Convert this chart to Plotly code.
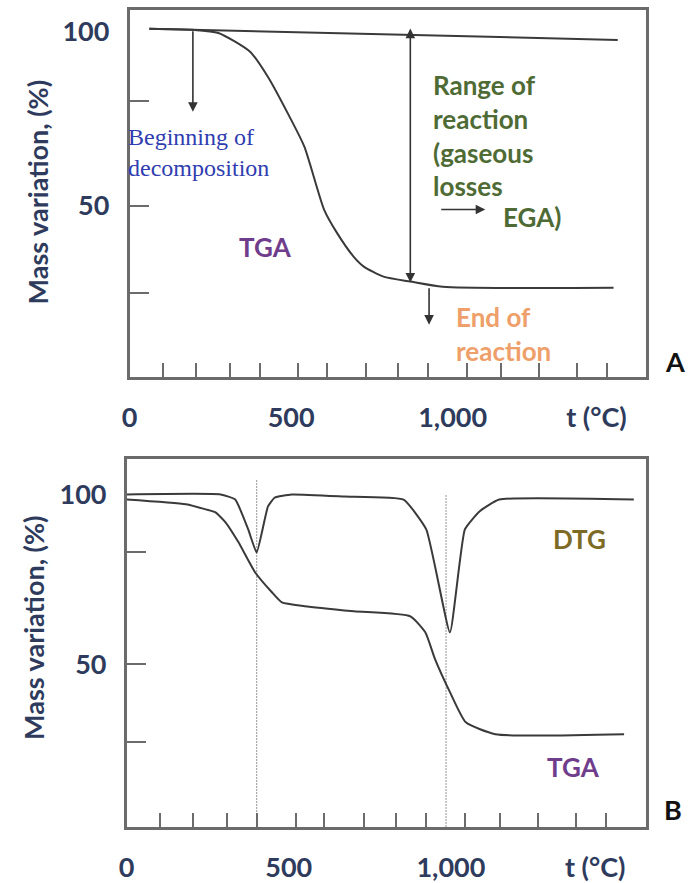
import plotly.graph_objects as go

# ---------------- data ----------------
# Panel A: single-step decomposition (temperature in °C, mass in %)
T_A_BASELINE = [61, 1511]
MASS_A_BASELINE = [100.9, 97.7]
T_A_TGA = [61, 196, 275, 373, 428, 489, 541, 602, 642, 694, 725, 786, 869, 969, 1498]
MASS_A_TGA = [100.9, 100.6, 99.7, 94.3, 87.1, 76.7, 67.0, 48.9, 42.2, 35.3, 32.5, 29.6, 28.2, 26.7, 26.4]

# Panel A event markers
ONSET_T, ONSET_FROM, ONSET_TO = 196, 100.6, 77.0
RANGE_T, RANGE_TOP, RANGE_BOTTOM = 869, 101.4, 27.9
END_T, END_FROM, END_TO = 927, 26.7, 15.8
EGA_T_FROM, EGA_T_TO, EGA_LEVEL = 960, 1101, 48.9

# Panel B: two-step decomposition with derivative curve
T_B_DTG = [0, 290, 335, 375, 401, 436, 457, 509, 671, 854, 924, 997, 1043, 1088, 1149, 1564]
DTG_B = [100, 100, 98.5, 89.7, 82.9, 96.5, 99.1, 100, 99.4, 98.5, 89.7, 59.4, 89.7, 95.0, 98.5, 98.5]
T_B_TGA = [0, 183, 244, 274, 305, 345, 396, 448, 479, 549, 701, 875, 921, 951, 997, 1046, 1137, 1534]
MASS_B_TGA = [98.5, 97.1, 95.6, 94.7, 91.8, 85.9, 77.1, 71.2, 68.2, 67.1, 65.6, 64.1, 59.4, 51.5,
              41.8, 32.9, 29.4, 29.4]
DTG_PEAK_T = [401, 985]
DTG_PEAK_TOP = [104.4, 100.0]

# Axis ticks
X_TICK_VALS = [0, 500, 1000]
X_TICK_TEXT = ["0", "500", "1,000"]
X_UNIT_T = 1445
X_UNIT_TEXT = "t (°C)"
X_MINOR_TICKS = [102, 206, 311, 403, 522, 610, 732, 832, 924, 1043, 1150, 1268, 1385, 1477]
Y_TICK_VALS = [100, 50]
Y_TICK_TEXT = ["100", "50"]
Y_MINOR_A = [80, 50, 25]
Y_MINOR_B = [83, 50, 27]

# ---------------- styling ----------------
FRAME = "#6b6b6b"
CURVE = "#3a3a3a"
NAVY = "#2e3b5c"
SANS = "Lato"
X_RANGE = [0, 1600]
Y_RANGE_A = [0.86, 106.3]
Y_RANGE_B = [2.06, 110.3]

fig = go.Figure()

# Panel A curves
fig.add_trace(go.Scatter(x=T_A_BASELINE, y=MASS_A_BASELINE, mode="lines",
                         line=dict(color=CURVE, width=2), xaxis="x", yaxis="y"))
fig.add_trace(go.Scatter(x=T_A_TGA, y=MASS_A_TGA, mode="lines",
                         line=dict(color=CURVE, width=2, shape="spline", smoothing=0.6),
                         xaxis="x", yaxis="y"))

# Panel B peak guides
for t, top in zip(DTG_PEAK_T, DTG_PEAK_TOP):
    fig.add_trace(go.Scatter(x=[t, t], y=[Y_RANGE_B[0], top], mode="lines",
                             line=dict(color="#a8a8a8", width=1.2, dash="2px,1px"),
                             xaxis="x2", yaxis="y2"))

# Panel B curves
fig.add_trace(go.Scatter(x=T_B_DTG, y=DTG_B, mode="lines",
                         line=dict(color=CURVE, width=2, shape="spline", smoothing=0.4),
                         xaxis="x2", yaxis="y2"))
fig.add_trace(go.Scatter(x=T_B_TGA, y=MASS_B_TGA, mode="lines",
                         line=dict(color=CURVE, width=2, shape="spline", smoothing=0.5),
                         xaxis="x2", yaxis="y2"))


def x_axis(domain, anchor):
    return dict(
        domain=domain, anchor=anchor, range=X_RANGE,
        showline=True, mirror=True, linecolor=FRAME, linewidth=2.5,
        showgrid=False, zeroline=False,
        tickmode="array", tickvals=X_TICK_VALS + [X_UNIT_T], ticktext=X_TICK_TEXT + [X_UNIT_TEXT],
        ticks="", ticklabelstandoff=15,
        tickfont=dict(family=SANS, size=27, color=NAVY, weight=700),
        minor=dict(tickmode="array", tickvals=X_MINOR_TICKS, ticks="inside",
                   ticklen=14, tickwidth=2, tickcolor=FRAME, showgrid=False),
    )


def y_axis(domain, anchor, rng, minor_vals):
    return dict(
        domain=domain, anchor=anchor, range=rng,
        showline=True, mirror=True, linecolor=FRAME, linewidth=2.5,
        showgrid=False, zeroline=False,
        tickmode="array", tickvals=Y_TICK_VALS, ticktext=Y_TICK_TEXT,
        ticks="", ticklabelstandoff=12,
        tickfont=dict(family=SANS, size=27, color=NAVY, weight=700),
        minor=dict(tickmode="array", tickvals=minor_vals, ticks="inside",
                   ticklen=20, tickwidth=2, tickcolor=FRAME, showgrid=False),
    )


fig.update_layout(
    width=688, height=883,
    margin=dict(l=0, r=0, t=0, b=0),
    paper_bgcolor="white", plot_bgcolor="white",
    showlegend=False,
    xaxis=x_axis([123 / 688, 646 / 688], "y"),
    yaxis=y_axis([1 - 377 / 883, 1 - 10 / 883], "x", Y_RANGE_A, Y_MINOR_A),
    xaxis2=x_axis([120 / 688, 645 / 688], "y2"),
    yaxis2=y_axis([1 - 828 / 883, 1 - 460 / 883], "x2", Y_RANGE_B, Y_MINOR_B),
)


def arrow(xref, yref, x, y, ax, ay, both=False):
    fig.add_annotation(
        xref=xref, yref=yref, axref=xref, ayref=yref,
        x=x, y=y, ax=ax, ay=ay, text="", showarrow=True,
        arrowhead=2, arrowsize=1.2, arrowwidth=1.6, arrowcolor="#333333",
        arrowside="end+start" if both else "end", startarrowhead=2, startarrowsize=1.2,
    )


# Panel A arrows
arrow("x", "y", ONSET_T, ONSET_TO, ONSET_T, ONSET_FROM)
arrow("x", "y", RANGE_T, RANGE_BOTTOM, RANGE_T, RANGE_TOP, both=True)
arrow("x", "y", END_T, END_TO, END_T, END_FROM)
arrow("x", "y", EGA_T_TO, EGA_LEVEL, EGA_T_FROM, EGA_LEVEL)


def label(xref, yref, x, y, text, color, size=26, family=SANS, weight=700,
          xanchor="left", xshift=0):
    fig.add_annotation(
        xref=xref, yref=yref, x=x, y=y, text=text, showarrow=False,
        xanchor=xanchor, yanchor="middle", align="left", xshift=xshift,
        font=dict(family=family, size=size, color=color, weight=weight),
    )


# Panel A labels
label("x", "y", 0, 65.2, "Beginning of<br>decomposition", "#2f3db0",
      size=24, family="Liberation Serif", weight=400, xshift=-4)
label("x", "y", 422, 38.2, "TGA", "#6f3d8c", xanchor="center")
label("x", "y", 933, 70.3, "Range of<br>reaction<br>(gaseous<br>losses", "#4f6b35")
label("x", "y", 1150, 46.8, "EGA)", "#4f6b35")
label("x", "y", 1003, 13.1, "End of<br>reaction", "#ee9f6a")

# Panel B labels
label("x2", "y2", 1396, 86.8, "DTG", "#7d6b25", xanchor="center")
label("x2", "y2", 1378, 19.7, "TGA", "#6f3d8c", xanchor="center")

# Axis titles and panel letters
for yc, xc in [(192, 30), (628, 26)]:
    fig.add_annotation(
        xref="paper", yref="paper", x=xc / 688, y=1 - yc / 883,
        text="Mass variation, (%)", textangle=-90, showarrow=False,
        xanchor="center", yanchor="middle",
        font=dict(family=SANS, size=27, color=NAVY, weight=700),
    )
for letter, xc, yc in [("A", 675, 362), ("B", 673, 810)]:
    fig.add_annotation(
        xref="paper", yref="paper", x=xc / 688, y=1 - yc / 883,
        text=letter, showarrow=False, xanchor="center", yanchor="middle",
        font=dict(family=SANS, size=27, color="#111111", weight=700),
    )

fig.write_html("out.html")
